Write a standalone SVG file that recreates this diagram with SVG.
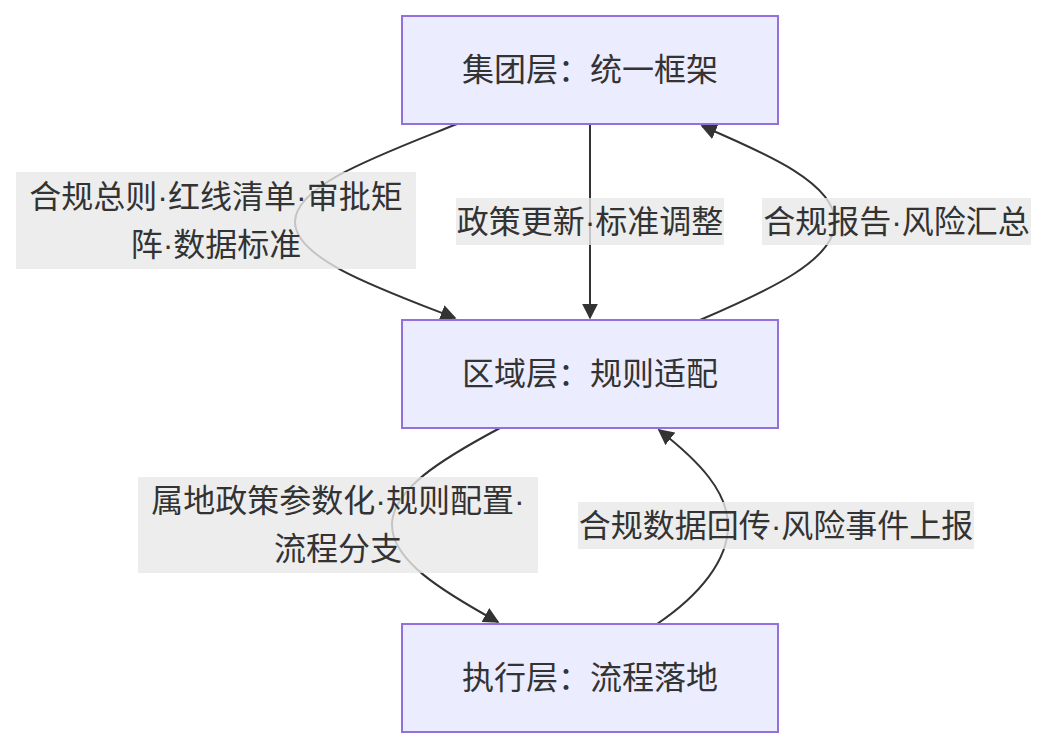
<svg xmlns="http://www.w3.org/2000/svg" width="1047" height="748" viewBox="0 0 1047 748">
<style>
.node rect{fill:#ECECFF;stroke:#9370DB;stroke-width:2}
text{font-family:"Liberation Sans","Noto Sans CJK SC",sans-serif;font-size:32px;fill:#333;text-anchor:middle;dominant-baseline:central}
.edge{fill:none;stroke:#333;stroke-width:2}
.lbl rect{fill:#e8e8e8;fill-opacity:0.8}
</style>
<defs>
<marker id="arrow" viewBox="0 0 10 10" refX="9" refY="5" markerUnits="userSpaceOnUse" markerWidth="16" markerHeight="16" orient="auto">
<path d="M0,0 L10,5 L0,10 z" fill="#333"/>
</marker>
</defs>
<rect width="1047" height="748" fill="#fff"/>
<g id="connectors">
<path class="edge" d="M457,124 C380,155 295,185 295,222 C295,259 380,289 455,318" marker-end="url(#arrow)"/>
<path class="edge" d="M590,124 L590,318" marker-end="url(#arrow)"/>
<path class="edge" d="M700,320 C770,290 835,260 835,222 C835,184 770,155 702,126" marker-end="url(#arrow)"/>
<path class="edge" d="M500,428 C440,460 392,490 392,525 C392,560 440,590 498,622" marker-end="url(#arrow)"/>
<path class="edge" d="M657,624 C700,595 728,560 728,526 C728,492 700,462 659,430" marker-end="url(#arrow)"/>
</g>
<g id="edge-labels">
<g class="lbl" id="label-a"><rect x="16" y="172" width="400" height="97"/><text x="216" y="197">合规总则·红线清单·审批矩</text><text x="216" y="245">阵·数据标准</text></g>
<g class="lbl" id="label-b"><rect x="456" y="198" width="268" height="47"/><text x="590" y="221.5">政策更新·标准调整</text></g>
<g class="lbl" id="label-c"><rect x="762" y="198" width="269" height="47"/><text x="896.5" y="221.5">合规报告·风险汇总</text></g>
<g class="lbl" id="label-d"><rect x="138" y="477" width="400" height="96"/><text x="338" y="501">属地政策参数化·规则配置·</text><text x="338" y="549">流程分支</text></g>
<g class="lbl" id="label-e"><rect x="578" y="502" width="396" height="47"/><text x="776" y="525.5">合规数据回传·风险事件上报</text></g>
</g>
<g class="node" id="node-group"><rect x="402" y="16" width="376" height="108"/><text x="590" y="70">集团层：统一框架</text></g>
<g class="node" id="node-region"><rect x="402" y="320" width="376" height="108"/><text x="590" y="374">区域层：规则适配</text></g>
<g class="node" id="node-exec"><rect x="402" y="624" width="376" height="108"/><text x="590" y="678">执行层：流程落地</text></g>
</svg>
